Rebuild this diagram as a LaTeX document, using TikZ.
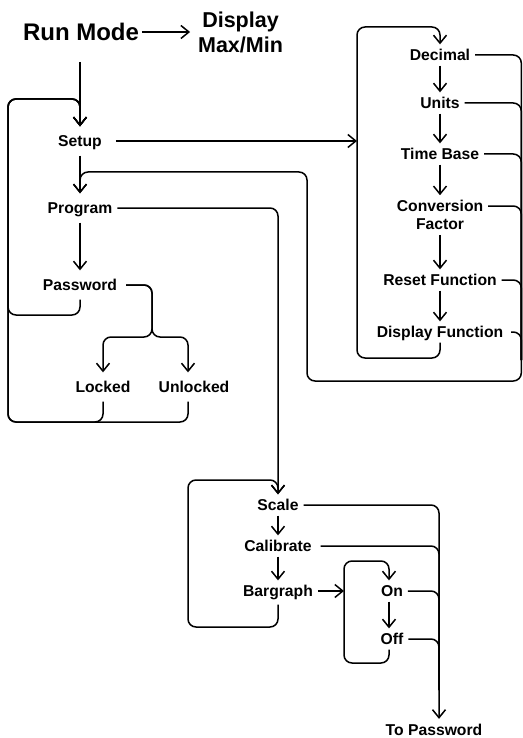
\documentclass[tikz,border=0pt]{standalone}
\usepackage{fontspec}
\setmainfont{Liberation Sans}
\usepackage{xcolor}
\usepackage{tikz}
\usetikzlibrary{arrows.meta, calc}
\definecolor{inkBlack}{RGB}{0, 0, 0}

\begin{document}
\begin{tikzpicture}[
    x=1pt, y=-1pt,
    modetitle/.style={
        font=\fontsize{24}{28}\selectfont\bfseries,
        inner sep=0pt,
        outer sep=3pt
    },
    heading/.style={
        font=\fontsize{21.5}{25}\selectfont\bfseries,
        align=center,
        inner sep=0pt,
        outer sep=8pt
    },
    item/.style={
        font=\fontsize{15.7}{18}\selectfont\bfseries,
        inner sep=0pt,
        outer sep=5pt
    },
    entry/.style={
        item,
        text height=11.3pt,
        text depth=0pt
    },
    mainentry/.style={
        entry,
        outer ysep=9pt
    },
    flow/.style={
        -{Straight Barb[length=8pt,width=13pt]},
        line width=1.5pt,
        rounded corners=8pt,
        color=inkBlack
    },
    link/.style={
        line width=1.5pt,
        rounded corners=8pt,
        color=inkBlack
    }
]
\useasboundingbox (0,0) rectangle (522,738);

% Top row
\node[modetitle] (runmode) at (81,32) {Run Mode};
\node[heading] (display) at (240.5,32) {Display\\Max/Min};

% Main menu
\node[mainentry] (setup) at (80,141) {Setup};
\node[mainentry] (program) at (80,208) {Program};
\node[mainentry] (password) at (80,285) {Password};
\node[mainentry] (locked) at (103,387) {Locked};
\node[mainentry] (unlocked) at (194,387) {Unlocked};

% Setup menu
\node[entry] (decimal) at (440,55) {Decimal};
\node[entry] (units) at (440,103) {Units};
\node[entry] (timebase) at (440,154) {Time Base};
\node[item, align=center] (convfactor) at (440,215) {Conversion\\Factor};
\node[entry] (reset) at (440,280) {Reset Function};
\node[entry] (dispfunc) at (440,332) {Display Function};

% Program menu
\node[entry] (scale) at (278,505) {Scale};
\node[entry] (calibrate) at (278,546) {Calibrate};
\node[entry] (bargraph) at (278,591) {Bargraph};
\node[entry] (on) at (392,591) {On};
\node[entry] (off) at (392,639) {Off};
\node[entry] (topassword) at (434,729.5) {To Password};

% Loop corners
\coordinate (setupin) at (80,99);
\coordinate (passret) at (8,315);
\coordinate (lockret) at (8,422);
\coordinate (subtop) at (357,27);
\coordinate (subbot) at (357,358);
\coordinate (outerrt) at (521.3,381);
\coordinate (outerjoin) at (521.3,360);
\coordinate (outerlt) at (307,172);
\coordinate (split) at (152,337);
\coordinate (scaletop) at (188,480);
\coordinate (scalebot) at (188,627);
\coordinate (ontop) at (344,561);
\coordinate (onbot) at (344,663);
\coordinate (pwjoin) at (439,690);

% Run mode arrows
\draw[flow] (runmode) -- (display);
\draw[flow, shorten <=18pt] (runmode.south -| setup) -- (setup.north);

% Main menu arrows
\draw[flow] (setup) -- (program);
\draw[flow] (program) -- (password);
\draw[flow] ([xshift=4pt]password.east) -| (split) -| (locked.north);
\draw[flow] ([xshift=4pt]password.east) -| (split) -| ([xshift=-6pt]unlocked.north);

% Returns to Setup
\draw[flow] (password.south) |- (passret) |- (setupin) -- (setup.north);
\draw[flow] (locked.south) |- (lockret) |- (setupin) -- (setup.north);
\draw[flow] ([xshift=-6pt]unlocked.south) |- (lockret) |- (setupin) -- (setup.north);

% Setup menu arrows
\draw[flow] ([xshift=9pt]setup.east) -- (setup.east -| subtop);
\draw[flow] (dispfunc.south) |- (subbot) -- (subtop) -| (decimal.north);
\draw[flow] (decimal) -- (units);
\draw[flow] (units) -- (timebase);
\draw[flow] (timebase) -- (convfactor);
\draw[flow] (convfactor) -- (reset);
\draw[flow] (reset) -- (dispfunc);

% Setup menu returns to Program
\draw[flow] (decimal.east) -| (outerrt) -| (outerlt) -| (program.north);
\draw[link] (units.east) -| (outerjoin);
\draw[link] (timebase.east) -| (outerjoin);
\draw[link] ([yshift=9pt]convfactor.east) -| (outerjoin);
\draw[link] (reset.east) -| (outerjoin);
\draw[link] ([xshift=3pt]dispfunc.east) -| (outerjoin);

% Program menu arrows
\draw[flow] (program.east) -| (scale.north);
\draw[flow] (scale) -- (calibrate);
\draw[flow] (calibrate) -- (bargraph);
\draw[flow, shorten <=3pt] (bargraph.south) |- (scalebot) -- (scaletop) -| (scale.north);
\draw[flow] (bargraph.east) -- (bargraph.east -| ontop);
\draw[flow] ([xshift=-3pt]on.south) -- ([xshift=-3pt]off.north);
\draw[flow] ([xshift=-3pt]off.south) |- (onbot) -- (ontop) -| ([xshift=-3pt]on.north);

% Returns to Password
\draw[flow] (scale.east) -| ([xshift=5pt]topassword.north);
\draw[link] ([xshift=4pt]calibrate.east) -| (pwjoin);
\draw[link] (on.east) -| (pwjoin);
\draw[link] (off.east) -| (pwjoin);

\end{tikzpicture}
\end{document}
